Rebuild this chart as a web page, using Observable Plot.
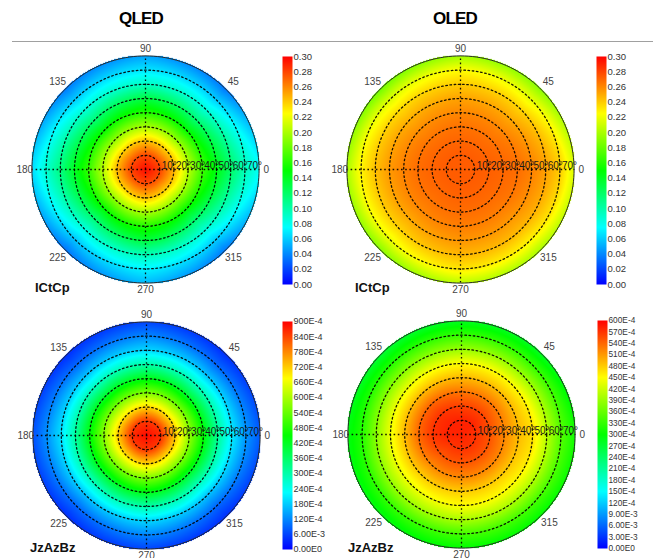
<!DOCTYPE html>
<html><head><meta charset="utf-8">
<script src="https://cdn.jsdelivr.net/npm/d3@7"></script>
<script src="https://cdn.jsdelivr.net/npm/@observablehq/plot@0.6"></script>
<style>
html,body{margin:0;padding:0;background:#fff;}
#root{position:relative;width:656px;height:558px;overflow:hidden;font-family:"Liberation Sans",Arial,sans-serif;}
.abs{position:absolute;}
.title{font-weight:bold;font-size:17px;line-height:17px;letter-spacing:-0.8px;transform:translateX(-50%);color:#000;}
.lab{font-weight:bold;font-size:13px;line-height:13px;color:#111;}
.rule{height:1px;background:#a0a0a0;}
</style></head><body><div id="root"></div>
<script>
// ---------- data ----------
const titles = ["QLED", "OLED"];
const spaceNames = ["ICtCp", "JzAzBz"];
const ringDegrees = [0, 10, 20, 30, 40, 50, 60, 70, 80];
const gridRings = [10, 20, 30, 40, 50, 60, 70];
const ringLabels = ["10°", "20°", "30°", "40°", "50°", "60°", "70°"];
const azimuthDegrees = [0, 45, 90, 135, 180, 225, 270, 315];
const angleLabels = ["0", "45", "90", "135", "180", "225", "270", "315"];

// rows: one per azimuth (0,45,...,315); columns: polar angle 0..80 deg
const qledICtCp = [
  [0.296, 0.280, 0.248, 0.205, 0.168, 0.145, 0.120, 0.096, 0.078],
  [0.296, 0.277, 0.238, 0.192, 0.150, 0.115, 0.085, 0.060, 0.035],
  [0.296, 0.278, 0.243, 0.200, 0.160, 0.130, 0.092, 0.068, 0.048],
  [0.296, 0.277, 0.238, 0.192, 0.150, 0.115, 0.085, 0.060, 0.036],
  [0.296, 0.280, 0.246, 0.203, 0.165, 0.140, 0.112, 0.088, 0.065],
  [0.296, 0.277, 0.238, 0.192, 0.150, 0.114, 0.084, 0.058, 0.034],
  [0.296, 0.278, 0.243, 0.200, 0.160, 0.132, 0.096, 0.072, 0.055],
  [0.296, 0.277, 0.238, 0.192, 0.150, 0.115, 0.085, 0.060, 0.036]
];
const oledICtCp = [
  [0.273, 0.273, 0.272, 0.270, 0.268, 0.262, 0.253, 0.240, 0.215],
  [0.273, 0.273, 0.270, 0.266, 0.260, 0.250, 0.237, 0.218, 0.190],
  [0.273, 0.273, 0.270, 0.266, 0.260, 0.252, 0.240, 0.225, 0.197],
  [0.273, 0.273, 0.270, 0.265, 0.258, 0.248, 0.235, 0.215, 0.183],
  [0.273, 0.273, 0.271, 0.268, 0.262, 0.255, 0.243, 0.228, 0.200],
  [0.273, 0.273, 0.270, 0.266, 0.260, 0.250, 0.238, 0.220, 0.190],
  [0.273, 0.273, 0.271, 0.268, 0.263, 0.256, 0.246, 0.232, 0.205],
  [0.273, 0.273, 0.271, 0.268, 0.263, 0.255, 0.245, 0.228, 0.200]
];
const qledJzAzBz = [
  [0.089, 0.086, 0.073, 0.058, 0.045, 0.032, 0.021, 0.0135, 0.008],
  [0.089, 0.085, 0.070, 0.055, 0.041, 0.028, 0.017, 0.009, 0.004],
  [0.089, 0.085, 0.071, 0.056, 0.043, 0.030, 0.019, 0.012, 0.006],
  [0.089, 0.085, 0.070, 0.055, 0.041, 0.028, 0.017, 0.009, 0.004],
  [0.089, 0.086, 0.072, 0.057, 0.044, 0.031, 0.020, 0.013, 0.007],
  [0.089, 0.085, 0.070, 0.055, 0.041, 0.028, 0.017, 0.009, 0.004],
  [0.089, 0.085, 0.071, 0.056, 0.043, 0.030, 0.019, 0.012, 0.006],
  [0.089, 0.085, 0.070, 0.055, 0.041, 0.028, 0.017, 0.009, 0.004]
];
const oledJzAzBz = [
  [0.058, 0.057, 0.055, 0.052, 0.049, 0.047, 0.041, 0.035, 0.031],
  [0.058, 0.058, 0.056, 0.053, 0.049, 0.045, 0.039, 0.033, 0.028],
  [0.058, 0.058, 0.056, 0.053, 0.049, 0.045, 0.039, 0.033, 0.028],
  [0.058, 0.058, 0.057, 0.054, 0.049, 0.044, 0.038, 0.032, 0.027],
  [0.058, 0.058, 0.057, 0.054, 0.049, 0.044, 0.038, 0.032, 0.029],
  [0.058, 0.057, 0.055, 0.052, 0.048, 0.044, 0.039, 0.033, 0.029],
  [0.058, 0.057, 0.055, 0.052, 0.048, 0.045, 0.040, 0.034, 0.030],
  [0.058, 0.057, 0.055, 0.052, 0.048, 0.045, 0.040, 0.034, 0.030]
];

const ictcpTickLabels = ["0.00","0.02","0.04","0.06","0.08","0.10","0.12","0.14","0.16","0.18","0.20","0.22","0.24","0.26","0.28","0.30"];
const qledJzTickLabels = ["0.00E0","6.00E-3","120E-4","180E-4","240E-4","300E-4","360E-4","420E-4","480E-4","540E-4","600E-4","660E-4","720E-4","780E-4","840E-4","900E-4"];
const oledJzTickLabels = ["0.00E0","3.00E-3","6.00E-3","9.00E-3","120E-4","150E-4","180E-4","210E-4","240E-4","270E-4","300E-4","330E-4","360E-4","390E-4","420E-4","450E-4","480E-4","510E-4","540E-4","570E-4","600E-4"];

const jetColors = ["#0000ff", "#00ffff", "#00ff00", "#ffff00", "#ff0000"];

// ---------- rendering ----------
const jet = d3.piecewise(d3.interpolateRgb, jetColors);
const rad = d => d * Math.PI / 180;
const K = 1.42;          // px per degree
const PW = 290, PH = 262;
const maxR = ringDegrees[ringDegrees.length - 1];
const FONT = "'Liberation Sans', Arial, sans-serif";

// bilinear interpolation on the polar sample grid (rings x azimuths), masked to the disk
function polarInterp(index, w, h, X, Y, V) {
  const cx = w / 2, cy = h / 2, R = Math.min(w, h) / 2;
  const nR = ringDegrees.length, nA = azimuthDegrees.length;
  const stepR = maxR / (nR - 1), stepA = 360 / nA;
  const G = Array.from({length: nR}, () => new Array(nA).fill(NaN));
  for (const i of index) {
    const dx = X[i] - cx, dy = Y[i] - cy;
    const r = Math.hypot(dx, dy) / R * maxR;
    const ri = Math.round(r / stepR);
    if (ri === 0) { G[0].fill(V[i]); continue; }
    let a = Math.atan2(dy, dx) * 180 / Math.PI; if (a < 0) a += 360;
    const ai = Math.round(a / stepA) % nA;
    G[ri][ai] = V[i];
  }
  const out = new Float64Array(w * h).fill(NaN);
  for (let py = 0; py < h; py++) for (let px = 0; px < w; px++) {
    const dx = px + 0.5 - cx, dy = py + 0.5 - cy;
    const r = Math.hypot(dx, dy) / R * maxR;
    if (r > maxR + 0.6) continue;
    let a = Math.atan2(dy, dx) * 180 / Math.PI; if (a < 0) a += 360;
    const fa = a / stepA, j0 = Math.floor(fa) % nA, j1 = (j0 + 1) % nA, s = fa - Math.floor(fa);
    const fr = Math.min(r / stepR, nR - 1 - 1e-9), i0 = Math.floor(fr), i1 = i0 + 1, t = fr - i0;
    const v0 = G[i0][j0] * (1 - s) + G[i0][j1] * s;
    const v1 = G[i1][j0] * (1 - s) + G[i1][j1] * s;
    out[py * w + px] = v0 * (1 - t) + v1 * t;
  }
  return out;
}

function polarPanel(rows, max) {
  const samples = [];
  azimuthDegrees.forEach((az, j) => ringDegrees.forEach((t, i) => samples.push({az, t, v: rows[j][i]})));
  const xr = PW / 2 / K, yr = PH / 2 / K;
  const circle = t => d3.range(0, 361, 2).map(a => ({t, x: t * Math.cos(rad(a)), y: t * Math.sin(rad(a))}));
  const labels = angleLabels.map((s, i) => ({s, a: azimuthDegrees[i], r: azimuthDegrees[i] % 90 === 0 ? 85 : 87.5}));
  const dotted = {stroke: "#000", strokeWidth: 1.3, strokeDasharray: "1.6,2.6", strokeOpacity: 0.9};
  return Plot.plot({
    width: PW, height: PH, margin: 0,
    style: {background: "transparent", overflow: "visible", fontFamily: FONT},
    x: {domain: [-xr, xr], axis: null},
    y: {domain: [-yr, yr], axis: null},
    color: {type: "linear", domain: [0, max], interpolate: jet, clamp: true},
    marks: [
      Plot.raster(samples, {
        x: d => d.t * Math.cos(rad(d.az)), y: d => d.t * Math.sin(rad(d.az)), fill: "v",
        x1: -maxR, x2: maxR, y1: -maxR, y2: maxR, interpolate: polarInterp
      }),
      Plot.line(gridRings.flatMap(circle), {x: "x", y: "y", z: "t", ...dotted}),
      Plot.ruleY([0], {x1: -maxR, x2: maxR, ...dotted}),
      Plot.ruleX([0], {y1: -maxR, y2: maxR, ...dotted}),
      Plot.line(circle(maxR), {x: "x", y: "y", stroke: "#2a2a2a", strokeWidth: 1}),
      Plot.text(ringLabels, {x: (d, i) => gridRings[i], y: () => 0, text: d => d, textAnchor: "start",
        dx: 2, dy: -4, fontSize: 10, fill: "#1a1a1a", letterSpacing: -0.7}),
      Plot.text(labels, {x: d => d.r * Math.cos(rad(d.a)), y: d => d.r * Math.sin(rad(d.a)), text: "s",
        fontSize: 10, fill: "#444", letterSpacing: -0.5})
    ]
  });
}

function colorBar(labels, max, fs) {
  const ticks = labels.map(Number);
  const lookup = new Map(ticks.map((v, i) => [v, labels[i]]));
  return Plot.plot({
    width: 56, height: 240, marginLeft: 0, marginRight: 46, marginTop: 6, marginBottom: 6,
    style: {background: "transparent", overflow: "visible", fontFamily: FONT},
    x: {domain: [0, 1], axis: null},
    y: {domain: [0, max], axis: null},
    color: {type: "linear", domain: [0, max], interpolate: jet},
    marks: [
      Plot.raster({fill: (x, y) => y, x1: 0, x2: 1, y1: 0, y2: max}),
      Plot.axisY(ticks, {anchor: "right", tickSize: 0, tickPadding: 1, tickFormat: d => lookup.get(d),
        fontSize: fs, fill: "#333", letterSpacing: -0.4})
    ]
  });
}

const root = document.getElementById("root");
function place(el, left, top) { el.classList.add("abs"); el.style.left = left + "px"; el.style.top = top + "px"; root.appendChild(el); return el; }
function div(cls, text) { const d = document.createElement("div"); d.className = cls; if (text != null) d.textContent = text; return d; }

place(div("title", titles[0]), 141, 10);
place(div("title", titles[1]), 455, 10);
const r = place(div("rule"), 12, 41); r.style.width = "641px";

place(polarPanel(qledICtCp, 0.3), 0, 38);
place(polarPanel(oledICtCp, 0.3), 315, 38);
place(polarPanel(qledJzAzBz, 0.09), 1, 304);
place(polarPanel(oledJzAzBz, 0.06), 316, 303);

place(colorBar(ictcpTickLabels, 0.3, 9.5), 282, 50);
place(colorBar(ictcpTickLabels, 0.3, 9.5), 596, 50);
place(colorBar(qledJzTickLabels, 0.09, 9), 282, 315);
place(colorBar(oledJzTickLabels, 0.06, 8.3), 597, 314);

place(div("lab", spaceNames[0]), 35, 281);
place(div("lab", spaceNames[0]), 355, 281);
place(div("lab", spaceNames[1]), 30, 541);
place(div("lab", spaceNames[1]), 348, 541);
</script></body></html>
